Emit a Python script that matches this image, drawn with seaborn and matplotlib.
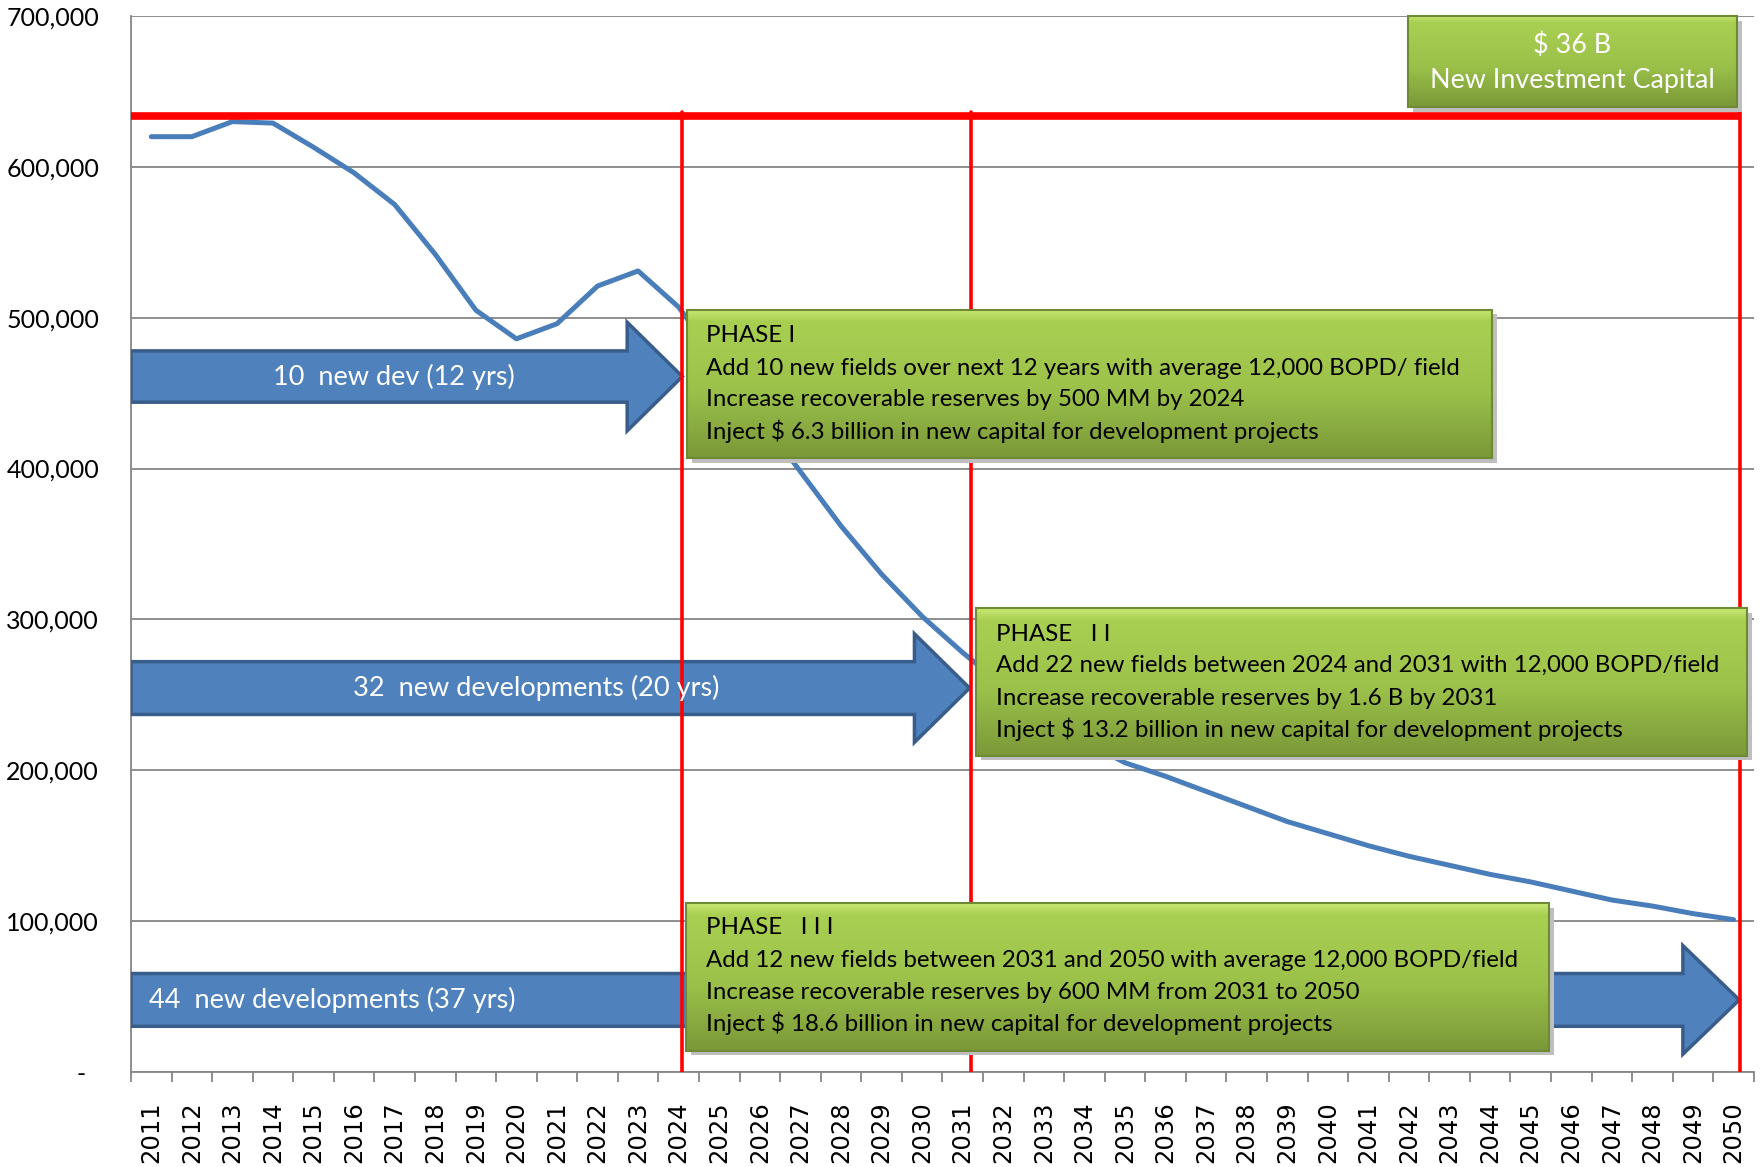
import matplotlib
matplotlib.use("Agg")
import matplotlib.pyplot as plt
import seaborn as sns
import pandas as pd
import numpy as np
from matplotlib.patches import Polygon, Rectangle
from matplotlib.colors import LinearSegmentedColormap
from matplotlib.ticker import FuncFormatter

# production forecast (BOPD)
years = list(range(2011, 2051))
production = [
    620000, 620000, 630000, 629000, 613000, 596000, 575000, 542000, 505000, 486000,
    496000, 521000, 531000, 507000, 470000, 434000, 398000, 362000, 330000, 302000,
    278000, 256000, 236000, 219000, 205000, 196000, 186000, 176000, 166000, 158000,
    150000, 143000, 137000, 131000, 126000, 120000, 114000, 110000, 105000, 101000,
]
y_ticks = [0, 100000, 200000, 300000, 400000, 500000, 600000, 700000]

capacity_level = 634000
phase_marks = [13.08, 20.2, 39.15]  # category positions of the phase ends

phase_texts = {
    "I": ["PHASE I",
          "Add 10 new fields over next 12 years with average 12,000 BOPD/ field",
          "Increase recoverable reserves by 500 MM by 2024",
          "Inject $ 6.3 billion in new capital for development projects"],
    "II": ["PHASE   I I",
           "Add 22 new fields between 2024 and 2031 with 12,000 BOPD/field",
           "Increase recoverable reserves by 1.6 B by 2031",
           "Inject $ 13.2 billion in new capital for development projects"],
    "III": ["PHASE   I I I",
            "Add 12 new fields between 2031 and 2050 with average 12,000 BOPD/field",
            "Increase recoverable reserves by 600 MM from 2031 to 2050",
            "Inject $ 18.6 billion in new capital for development projects"],
}
arrow_labels = ["10  new dev (12 yrs)", "32  new developments (20 yrs)", "44  new developments (37 yrs)"]
total_labels = ["$ 36 B", "New Investment Capital"]

df = pd.DataFrame({"pos": np.arange(len(years)), "year": years, "bopd": production})

sns.set_theme(style="white")
plt.rcParams["font.family"] = ["Lato", "DejaVu Sans"]

fig = plt.figure(figsize=(17.65, 11.67), dpi=100)
ax = fig.add_axes([0.0742, 0.0814, 0.9195, 0.9049])

sns.lineplot(data=df, x="pos", y="bopd", color="#4A7EBB", linewidth=3.6, ax=ax, zorder=3)

ax.set_xlim(-0.5, len(years) - 0.5)
ax.set_ylim(0, 700000)
ax.set_xlabel("")
ax.set_ylabel("")

# axes styling, Excel-like
for s in ["top", "right"]:
    ax.spines[s].set_visible(False)
for s in ["left", "bottom"]:
    ax.spines[s].set_color("#868686")
    ax.spines[s].set_linewidth(1.3)
ax.set_yticks(y_ticks)
ax.yaxis.set_major_formatter(FuncFormatter(lambda v, p: "-  " if v == 0 else f"{int(v):,}"))
ax.grid(axis="y", color="#868686", linewidth=1.3)
ax.set_axisbelow(True)
ax.tick_params(axis="y", length=7, width=1.3, color="#868686", pad=16, labelsize=18, labelcolor="black")
ax.set_xticks(df["pos"])
ax.set_xticklabels(df["year"], rotation=90, fontsize=17.5, family="DejaVu Sans", color="black")
ax.set_xticks(np.arange(-0.5, len(years)), minor=True)
ax.tick_params(axis="x", which="major", length=0, pad=21)
ax.tick_params(axis="x", which="minor", bottom=True, length=7.5, width=1.3, color="#868686")

# red capacity line and phase boundaries
ax.plot([-0.5, phase_marks[2]], [capacity_level, capacity_level], color="#FF0000", lw=5.5, zorder=4,
        solid_capstyle="butt")
for m in phase_marks:
    ax.plot([m, m], [0, capacity_level + 2500], color="#FF0000", lw=2.6, zorder=4)


def draw_arrow(x0, x_head, x_tip, body, head, y_mid, label, tx):
    pts = [(x0, y_mid + body), (x_head, y_mid + body), (x_head, y_mid + head), (x_tip, y_mid),
           (x_head, y_mid - head), (x_head, y_mid - body), (x0, y_mid - body)]
    ax.add_patch(Polygon(pts, closed=True, facecolor="#4F81BD", edgecolor="#385D8A", lw=2.5, zorder=3.5))
    ax.text(tx, y_mid, label, color="white", fontsize=19.5, ha="center", va="center", zorder=6)


draw_arrow(-0.5, 11.73, 13.09, 17000, 36000, 461000, arrow_labels[0], 5.99)
draw_arrow(-0.5, 18.81, 20.17, 17500, 36000, 254500, arrow_labels[1], 9.49)
draw_arrow(-0.5, 37.75, 39.14, 17500, 36000, 47800, arrow_labels[2], 4.47)

green = LinearSegmentedColormap.from_list(
    "grn", [(0, "#c9e874"), (0.08, "#a9cf52"), (0.55, "#9bc14a"), (1, "#7a9838")])
grad = np.linspace(0, 1, 256).reshape(-1, 1)


def draw_box(x0, x1, y0, y1):
    ax.add_patch(Rectangle((x0 + 0.12, y0 - 3000), x1 - x0, y1 - y0, facecolor="#bfbfbf",
                           edgecolor="none", zorder=4.8, clip_on=False))
    ax.imshow(grad, extent=(x0, x1, y0, y1), cmap=green, aspect="auto", origin="upper",
              zorder=5, clip_on=False)
    ax.add_patch(Rectangle((x0, y0), x1 - x0, y1 - y0, facecolor="none", edgecolor="#6f8a35",
                           lw=1.5, zorder=5.1, clip_on=False))


draw_box(13.20, 33.04, 406700, 505200)
draw_box(20.33, 39.33, 209700, 307500)
draw_box(13.18, 34.45, 14200, 111900)
draw_box(30.98, 39.08, 639600, 700000)

line_y = {"I": [488000, 466000, 445500, 424600],
          "II": [290300, 269400, 247800, 226900],
          "III": [95500, 73900, 53000, 32100]}
line_x = {"I": 13.67, "II": 20.83, "III": 13.67}
for k, lines in phase_texts.items():
    for t, yy in zip(lines, line_y[k]):
        ax.text(line_x[k], yy, t, fontsize=17.3, color="#000000", ha="left", va="center", zorder=6)

ax.text(35.03, 680600, total_labels[0], fontsize=19.4, color="#ffffff", ha="center", va="center", zorder=6)
ax.text(35.03, 657500, total_labels[1], fontsize=19.4, color="#ffffff", ha="center", va="center", zorder=6)

ax.set_xlim(-0.5, len(years) - 0.5)
ax.set_ylim(0, 700000)

fig.savefig("out.png", dpi=100)
